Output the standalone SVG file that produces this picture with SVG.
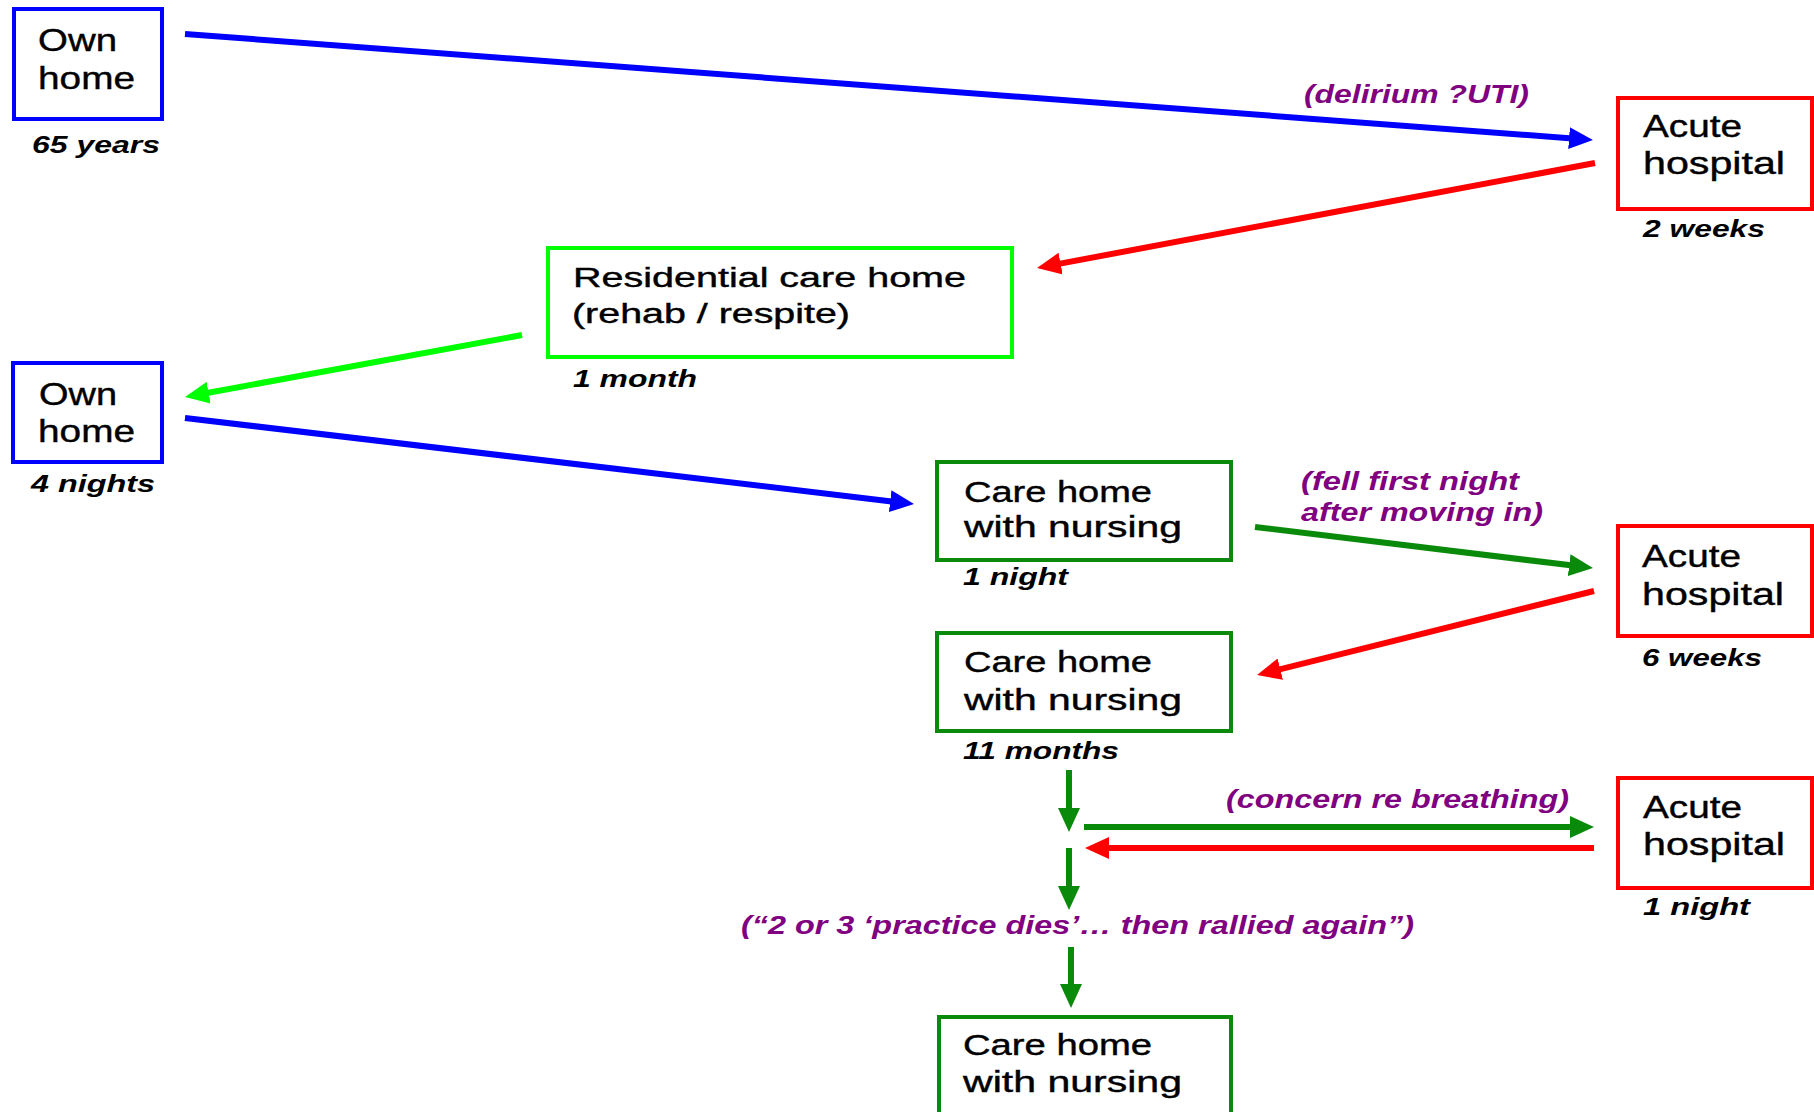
<svg xmlns="http://www.w3.org/2000/svg" width="1814" height="1112" viewBox="0 0 1814 1112">
<style>
.box{fill:#fff;stroke-width:4}
.b{stroke:#0000ff}.r{stroke:#ff0000}.g{stroke:#00ff00}.dg{stroke:#0a8a0a}
text{font-family:"Liberation Sans",Arial,sans-serif}
.n{fill:#000;stroke:#000;stroke-width:0.4}
.d{fill:#000;font-weight:bold;font-style:italic;font-size:23px}
.p{fill:#800080;font-weight:bold;font-style:italic;font-size:25px}
.ln{fill:none;stroke-width:6}
</style>
<defs>
<marker id="mb" markerUnits="userSpaceOnUse" markerWidth="24" markerHeight="22" refX="10" refY="11" orient="auto"><path d="M0,0 L24,11 L0,22 z" fill="#0000ff"/></marker>
<marker id="mr" markerUnits="userSpaceOnUse" markerWidth="24" markerHeight="22" refX="10" refY="11" orient="auto"><path d="M0,0 L24,11 L0,22 z" fill="#ff0000"/></marker>
<marker id="mg" markerUnits="userSpaceOnUse" markerWidth="24" markerHeight="22" refX="10" refY="11" orient="auto"><path d="M0,0 L24,11 L0,22 z" fill="#00ff00"/></marker>
<marker id="mdg" markerUnits="userSpaceOnUse" markerWidth="24" markerHeight="22" refX="10" refY="11" orient="auto"><path d="M0,0 L24,11 L0,22 z" fill="#0a8a0a"/></marker>
</defs>
<rect width="1814" height="1112" fill="#fff"/>

<g id="connectors">
<line class="ln" stroke="#0000ff" x1="185" y1="34" x2="1579" y2="138.9" marker-end="url(#mb)"/>
<line class="ln" stroke="#ff0000" x1="1595" y1="163" x2="1050.8" y2="265.4" marker-end="url(#mr)"/>
<line class="ln" stroke="#00ff00" x1="522" y1="335" x2="198.8" y2="394.5" marker-end="url(#mg)"/>
<line class="ln" stroke="#0000ff" x1="185" y1="418" x2="900.1" y2="502.4" marker-end="url(#mb)"/>
<line class="ln" stroke="#0a8a0a" x1="1255" y1="527" x2="1579.1" y2="566.3" marker-end="url(#mdg)"/>
<line class="ln" stroke="#ff0000" x1="1594" y1="591" x2="1270.6" y2="671.6" marker-end="url(#mr)"/>
<line class="ln" stroke="#0a8a0a" x1="1069" y1="770" x2="1069" y2="818" marker-end="url(#mdg)"/>
<line class="ln" stroke="#0a8a0a" x1="1084" y1="827" x2="1580" y2="827" marker-end="url(#mdg)"/>
<line class="ln" stroke="#ff0000" x1="1594" y1="848" x2="1099" y2="848" marker-end="url(#mr)"/>
<line class="ln" stroke="#0a8a0a" x1="1069" y1="848" x2="1069" y2="896" marker-end="url(#mdg)"/>
<line class="ln" stroke="#0a8a0a" x1="1071" y1="947" x2="1071" y2="994" marker-end="url(#mdg)"/>
<text class="p" x="1304" y="103" textLength="225" lengthAdjust="spacingAndGlyphs">(delirium ?UTI)</text>
<text class="p" x="1301" y="490" textLength="218" lengthAdjust="spacingAndGlyphs">(fell first night</text>
<text class="p" x="1301" y="521" textLength="242" lengthAdjust="spacingAndGlyphs">after moving in)</text>
<text class="p" x="1226" y="808" textLength="343" lengthAdjust="spacingAndGlyphs">(concern re breathing)</text>
<text class="p" x="741" y="934" textLength="673" lengthAdjust="spacingAndGlyphs">(“2 or 3 ‘practice dies’… then rallied again”)</text>
</g>

<g id="own-home-1">
<rect class="box b" x="14" y="9" width="148" height="110"/>
<text class="n" x="38" y="51" font-size="32" textLength="79" lengthAdjust="spacingAndGlyphs">Own</text>
<text class="n" x="38" y="89" font-size="32" textLength="97" lengthAdjust="spacingAndGlyphs">home</text>
<text class="d" x="32" y="153" textLength="128" lengthAdjust="spacingAndGlyphs">65 years</text>
</g>

<g id="acute-hospital-1">
<rect class="box r" x="1618" y="98" width="194" height="111"/>
<text class="n" x="1643" y="137" font-size="31" textLength="99" lengthAdjust="spacingAndGlyphs">Acute</text>
<text class="n" x="1643" y="174" font-size="31" textLength="142" lengthAdjust="spacingAndGlyphs">hospital</text>
<text class="d" x="1643" y="237" textLength="122" lengthAdjust="spacingAndGlyphs">2 weeks</text>
</g>

<g id="residential-care-home">
<rect class="box g" x="548" y="248" width="464" height="109"/>
<text class="n" x="573" y="287" font-size="27" textLength="393" lengthAdjust="spacingAndGlyphs">Residential care home</text>
<text class="n" x="572" y="323" font-size="27" textLength="278" lengthAdjust="spacingAndGlyphs">(rehab / respite)</text>
<text class="d" x="573" y="387" textLength="124" lengthAdjust="spacingAndGlyphs">1 month</text>
</g>

<g id="own-home-2">
<rect class="box b" x="13" y="363" width="149" height="99"/>
<text class="n" x="39" y="405" font-size="32" textLength="78" lengthAdjust="spacingAndGlyphs">Own</text>
<text class="n" x="38" y="442" font-size="32" textLength="97" lengthAdjust="spacingAndGlyphs">home</text>
<text class="d" x="31" y="492" textLength="124" lengthAdjust="spacingAndGlyphs">4 nights</text>
</g>

<g id="care-home-nursing-1">
<rect class="box dg" x="937" y="462" width="294" height="98"/>
<text class="n" x="964" y="502" font-size="29" textLength="188" lengthAdjust="spacingAndGlyphs">Care home</text>
<text class="n" x="964" y="537" font-size="29" textLength="218" lengthAdjust="spacingAndGlyphs">with nursing</text>
<text class="d" x="963" y="585" textLength="105" lengthAdjust="spacingAndGlyphs">1 night</text>
</g>

<g id="acute-hospital-2">
<rect class="box r" x="1618" y="526" width="194" height="110"/>
<text class="n" x="1642" y="567" font-size="31" textLength="99" lengthAdjust="spacingAndGlyphs">Acute</text>
<text class="n" x="1642" y="605" font-size="31" textLength="142" lengthAdjust="spacingAndGlyphs">hospital</text>
<text class="d" x="1642" y="666" textLength="120" lengthAdjust="spacingAndGlyphs">6 weeks</text>
</g>

<g id="care-home-nursing-2">
<rect class="box dg" x="937" y="633" width="294" height="98"/>
<text class="n" x="964" y="672" font-size="29" textLength="188" lengthAdjust="spacingAndGlyphs">Care home</text>
<text class="n" x="964" y="710" font-size="29" textLength="218" lengthAdjust="spacingAndGlyphs">with nursing</text>
<text class="d" x="963" y="759" textLength="156" lengthAdjust="spacingAndGlyphs">11 months</text>
</g>

<g id="acute-hospital-3">
<rect class="box r" x="1618" y="778" width="194" height="110"/>
<text class="n" x="1643" y="818" font-size="31" textLength="99" lengthAdjust="spacingAndGlyphs">Acute</text>
<text class="n" x="1643" y="855" font-size="31" textLength="142" lengthAdjust="spacingAndGlyphs">hospital</text>
<text class="d" x="1643" y="915" textLength="107" lengthAdjust="spacingAndGlyphs">1 night</text>
</g>

<g id="care-home-nursing-3">
<rect class="box dg" x="939" y="1017" width="292" height="112"/>
<text class="n" x="963" y="1055" font-size="29" textLength="189" lengthAdjust="spacingAndGlyphs">Care home</text>
<text class="n" x="963" y="1092" font-size="29" textLength="219" lengthAdjust="spacingAndGlyphs">with nursing</text>
</g>
</svg>
